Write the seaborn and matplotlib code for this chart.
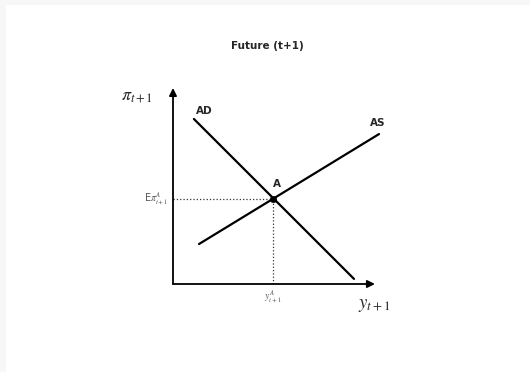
import matplotlib
matplotlib.use('Agg')
import pandas as pd
import matplotlib.pyplot as plt
import seaborn as sns

#---------------------------------------------------------
# curve end points in chart units (axes run 0..10)
ad_x=[1.02, 8.83]
ad_y=[8.42, 0.26]
as_x=[1.27, 10.05]
as_y=[2.04, 7.65]
eq_x=[4.88]
eq_y=[4.34]
title='Future (t+1)'

#---------------------------------------------------------
sns.set_theme(style='white')
plt.rcParams['mathtext.fontset']='stix'
plt.rcParams['font.family']=['DejaVu Sans']

fig=plt.figure(figsize=(5.3, 3.72), dpi=100, facecolor='#f7f7f7')
#white page inside a faint grey frame (top and left)
fig.patches.append(plt.Rectangle((6/530, 0), 1, 1-5/372, transform=fig.transFigure,
	facecolor='white', edgecolor='none', zorder=-10))
ax=fig.add_axes([173/530, 88/372, 205/530, 196/372])
ax.set_zorder(5)
ax.set_xlim(0, 10)
ax.set_ylim(0, 10)
ax.axis('off')

df_ad=pd.DataFrame({'x': ad_x, 'y': ad_y})
df_as=pd.DataFrame({'x': as_x, 'y': as_y})
df_eq=pd.DataFrame({'x': eq_x, 'y': eq_y})

#curves
sns.lineplot(data=df_ad, x='x', y='y', color='black', lw=1.6, ax=ax, clip_on=False)
sns.lineplot(data=df_as, x='x', y='y', color='black', lw=1.6, ax=ax, clip_on=False)
sns.scatterplot(data=df_eq, x='x', y='y', color='black', s=22, edgecolor='black', zorder=5, ax=ax)

#dotted guides
ax.plot([0, eq_x[0]], [eq_y[0], eq_y[0]], ls=':', color='#333333', lw=0.9)
ax.plot([eq_x[0], eq_x[0]], [0, eq_y[0]], ls=':', color='#333333', lw=0.9)

#axes arrows
arw=dict(arrowstyle='-|>', color='black', lw=1.3, mutation_scale=11, shrinkA=0, shrinkB=0)
ax.annotate('', xy=(0, 10), xytext=(0, 0), arrowprops=arw, annotation_clip=False)
ax.annotate('', xy=(9.85, 0), xytext=(0, 0), arrowprops=arw, annotation_clip=False)

#labels
ax.text(-0.98, 9.6, r'$\pi_{t+1}$', fontsize=13, ha='right', va='center')
ax.text(9.8, -1.07, r'$y_{t+1}$', fontsize=13.5, ha='center', va='center')
ax.text(-0.25, eq_y[0], r'E$\pi^A_{t+1}$', fontsize=7, color='#555555', ha='right', va='center')
ax.text(eq_x[0], -0.68, r'$y^A_{t+1}$', fontsize=7, color='#555555', ha='center', va='center')
ax.text(1.51, 8.83, 'AD', fontsize=7.5, weight='bold', ha='center', va='center')
ax.text(10.0, 8.21, 'AS', fontsize=7.5, weight='bold', ha='center', va='center')
ax.text(5.07, 5.1, 'A', fontsize=7.5, weight='bold', ha='center', va='center')
fig.text(267/530, 1-46/372, title, fontsize=7.5, weight='bold', ha='center', va='center', zorder=6)

ax.set_xlabel('')
ax.set_ylabel('')
plt.savefig('out.png', dpi=100, facecolor=fig.get_facecolor())
plt.close()
